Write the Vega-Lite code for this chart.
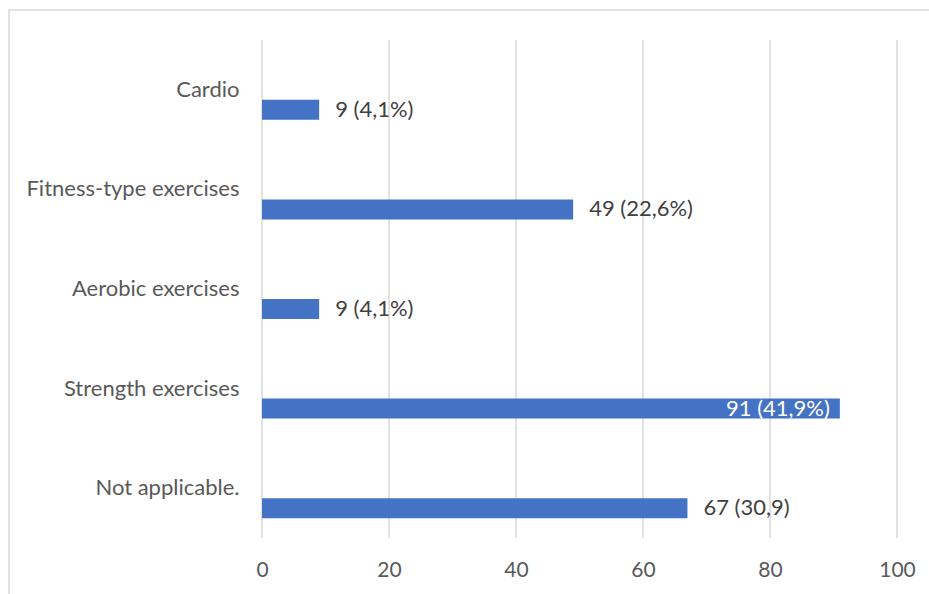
{
  "$schema": "https://vega.github.io/schema/vega-lite/v6.json",
  "width": 922,
  "height": 586,
  "autosize": "none",
  "padding": {"left": 9, "top": 10, "right": -2, "bottom": -2},
  "background": "white",
  "config": {
    "view": {"stroke": "#d9d9d9", "strokeWidth": 1.5},
    "font": "Lato"
  },
  "data": {
    "values": [
      {"activity": "Cardio", "count": 9, "label": "9 (4,1%)"},
      {"activity": "Fitness-type exercises", "count": 49, "label": "49 (22,6%)"},
      {"activity": "Aerobic exercises", "count": 9, "label": "9 (4,1%)"},
      {"activity": "Strength exercises", "count": 91, "label": "91 (41,9%)"},
      {"activity": "Not applicable.", "count": 67, "label": "67 (30,9)"}
    ]
  },
  "layer": [
    {
      "data": {"values": [{"tick": 0}, {"tick": 20}, {"tick": 40}, {"tick": 60}, {"tick": 80}, {"tick": 100}]},
      "mark": {"type": "rule", "color": "#d9d9d9", "strokeWidth": 1.5},
      "encoding": {
        "x": {"field": "tick", "type": "quantitative"},
        "y": {"datum": "Cardio", "type": "nominal", "bandPosition": 0},
        "y2": {"datum": "Not applicable.", "bandPosition": 1}
      }
    },
    {
      "mark": {"type": "bar", "color": "#4472C4", "height": 20, "yOffset": 20},
      "encoding": {
        "x": {
          "field": "count",
          "type": "quantitative",
          "scale": {"domain": [0, 100], "range": [253, 888], "nice": false, "zero": true},
          "axis": {
            "orient": "bottom",
            "values": [0, 20, 40, 60, 80, 100],
            "offset": -58,
            "grid": false,
            "ticks": false,
            "domain": false,
            "labelFlush": false,
            "labelPadding": 21,
            "labelFontSize": 21,
            "labelColor": "#595959",
            "title": null
          }
        },
        "y": {
          "field": "activity",
          "type": "nominal",
          "scale": {
            "domain": ["Cardio", "Fitness-type exercises", "Aerobic exercises", "Strength exercises", "Not applicable."],
            "range": [30, 528],
            "paddingInner": 0,
            "paddingOuter": 0
          },
          "axis": {
            "orient": "left",
            "offset": -253,
            "ticks": false,
            "domain": false,
            "grid": false,
            "labelPadding": 23,
            "labelFontSize": 22,
            "labelColor": "#595959",
            "labelLimit": 400,
            "title": null
          }
        }
      }
    },
    {
      "transform": [{"filter": "datum.count < 85"}],
      "mark": {"type": "text", "align": "left", "baseline": "middle", "dx": 16, "yOffset": 20, "fontSize": 22, "color": "#404040"},
      "encoding": {
        "x": {"field": "count", "type": "quantitative"},
        "y": {"field": "activity", "type": "nominal"},
        "text": {"field": "label"}
      }
    },
    {
      "transform": [{"filter": "datum.count >= 85"}],
      "mark": {"type": "text", "align": "right", "baseline": "middle", "dx": -10, "yOffset": 20, "fontSize": 22, "color": "white"},
      "encoding": {
        "x": {"field": "count", "type": "quantitative"},
        "y": {"field": "activity", "type": "nominal"},
        "text": {"field": "label"}
      }
    }
  ]
}
